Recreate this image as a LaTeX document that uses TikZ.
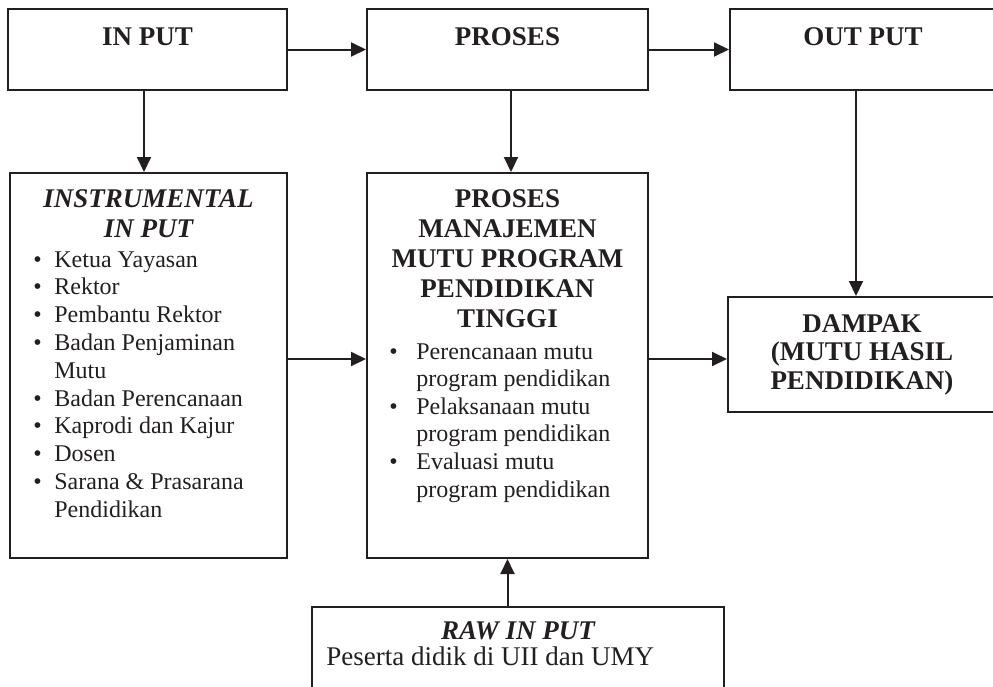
\documentclass[tikz,border=0pt]{standalone}
\usepackage{fontspec}
\setmainfont{Liberation Serif}
\usetikzlibrary{arrows.meta, positioning, calc}
\definecolor{ink}{HTML}{231F20}

\begin{document}
\begin{tikzpicture}[
  x=0.5pt, y=-0.5pt,
  box/.style={rectangle, draw=ink, line width=1pt, inner sep=0pt},
  head/.style={font=\fontsize{13.5}{15}\selectfont\bfseries, text=ink,
               inner sep=0pt, align=center, anchor=base},
  headit/.style={head, font=\fontsize{13.5}{15}\selectfont\bfseries\itshape},
  list/.style={font=\fontsize{12}{13.9}\selectfont, text=ink,
               inner sep=0pt, anchor=base west},
  arr/.style={-{Triangle[length=7.5pt, width=7pt]}, draw=ink, line width=1pt},
]

\clip (0,0) rectangle (993,687);

% ---- top row ----
\node[box, minimum width=139.5pt, minimum height=40.5pt] (inp)  at (147.5,49.5) {};
\node[box, minimum width=140.5pt, minimum height=40.5pt] (pros) at (507.5,49.5) {};
\node[box, minimum width=133pt,   minimum height=40.5pt] (outp) at (863,49.5)   {};

\node[head] (inptxt)  at ([yshift=-18.5pt]inp.north)  {IN PUT};
\node[head] (prostxt) at ([yshift=-18.5pt]pros.north) {PROSES};
\node[head] (outptxt) at ([yshift=-18.5pt]outp.north) {OUT PUT};

% ---- middle row ----
\node[box, minimum width=138.5pt, minimum height=192.5pt] (instr) at (148.5,365.5) {};
\node[box, minimum width=140.5pt, minimum height=192.5pt] (mgmt)  at (507.5,365.5) {};
\node[box, minimum width=134pt,   minimum height=57.5pt]  (damp)  at (862,354.5)   {};

\node[headit, anchor=north] (instrhead) at ([yshift=-8.4pt]instr.north) {INSTRUMENTAL\\IN PUT};
\node[list] (instrlist) at (33,267) {%
  \begin{tabular}[t]{@{}l@{\hspace{6.3pt}}l@{}}
  \textbullet & Ketua Yayasan\\
  \textbullet & Rektor\\
  \textbullet & Pembantu Rektor\\
  \textbullet & Badan Penjaminan\\
              & Mutu\\
  \textbullet & Badan Perencanaan\\
  \textbullet & Kaprodi dan Kajur\\
  \textbullet & Dosen\\
  \textbullet & Sarana \& Prasarana\\
              & Pendidikan
  \end{tabular}};

\node[head, anchor=north] (mgmthead) at ([yshift=-8.4pt]mgmt.north)
  {PROSES\\MANAJEMEN\\MUTU PROGRAM\\PENDIDIKAN\\TINGGI};
\node[list, font=\fontsize{12}{13.8}\selectfont] (mgmtlist) at (389,359) {%
  \begin{tabular}[t]{@{}l@{\hspace{9.3pt}}l@{}}
  \textbullet & Perencanaan mutu\\
              & program pendidikan\\
  \textbullet & Pelaksanaan mutu\\
              & program pendidikan\\
  \textbullet & Evaluasi mutu\\
              & program pendidikan
  \end{tabular}};

\node[head, anchor=north, font=\fontsize{13.5}{14.25}\selectfont\bfseries] (damptxt)
  at ([yshift=-8.9pt]damp.north) {DAMPAK\\(MUTU HASIL\\PENDIDIKAN)};

% ---- bottom ----
\node[box, minimum width=206pt, minimum height=46.5pt] (raw) at (518,653.5) {};
\node[headit] (rawhead) at ([yshift=-16.5pt]raw.north) {RAW IN PUT};
\node[list, font=\fontsize{13.5}{14}\selectfont] (rawtxt) at (326,665)
  {Peserta didik di UII dan UMY};

% ---- arrows ----
\draw[arr] (inp.east) -- (pros.west);
\draw[arr] (pros.east) -- (outp.west);
\draw[arr] ([xshift=-1.75pt]inp.south) -- ([xshift=-1.75pt]inp.south |- instr.north);
\draw[arr] ([xshift=1.75pt]pros.south) -- ([xshift=1.75pt]pros.south |- mgmt.north);
\draw[arr] ([xshift=-3.5pt]outp.south) -- ([xshift=-3.5pt]outp.south |- damp.north);
\draw[arr] ([yshift=3.25pt]instr.east) -- ([yshift=3.25pt]mgmt.west);
\draw[arr] ([yshift=3.25pt]mgmt.east) -- ([yshift=3.25pt]mgmt.east -| damp.west);
\draw[arr] (mgmt.south |- raw.north) -- (mgmt.south);

\end{tikzpicture}
\end{document}
